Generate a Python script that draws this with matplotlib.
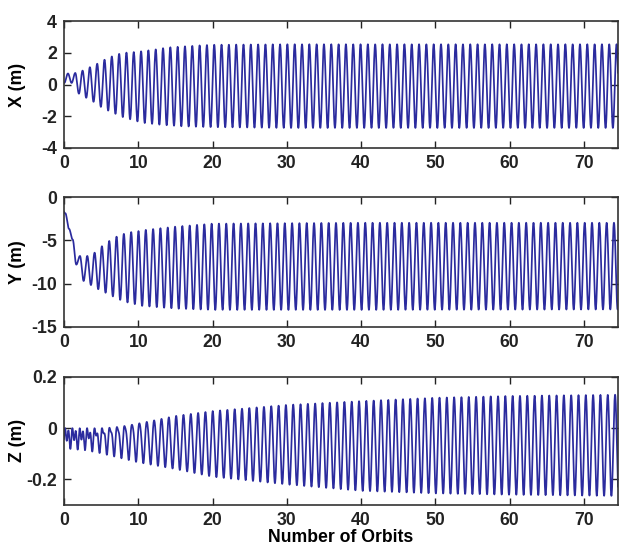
import numpy as np
import matplotlib
matplotlib.use("Agg")
import matplotlib.pyplot as plt

plt.rcParams['font.family'] = ['Liberation Sans', 'DejaVu Sans']
plt.rcParams['font.weight'] = 'bold'
plt.rcParams['font.size'] = 12.7

# orbit period of the relative motion oscillation (in orbits)
period = 0.985
t_end = 74.6

# X: envelope of the oscillation (upper peaks / lower troughs)
x_up_t = [0, 1.3, 2.5, 3.5, 4.4, 5.4, 6.4, 7.4, 8.4, 10, 12, 14, 16, 18, 20, 30, 75]
x_up = [0.7, 0.7, 0.88, 1.1, 1.3, 1.56, 1.77, 1.94, 2.02, 2.08, 2.2, 2.35, 2.41, 2.47, 2.52, 2.55, 2.55]
x_lo_t = [0, 1.3, 1.9, 3.0, 4.0, 4.9, 5.9, 6.9, 7.9, 8.9, 9.9, 10.9, 13, 16, 20, 30, 75]
x_lo = [0.1, 0.1, -0.55, -0.84, -1.1, -1.4, -1.64, -1.85, -2.06, -2.2, -2.34, -2.44, -2.55, -2.65, -2.7, -2.75, -2.75]

# Y
y_up_t = [0, 1.2, 2.15, 3.14, 4.17, 5.2, 6.2, 7.2, 8.2, 9.2, 10.2, 11.2, 15, 20, 40, 75]
y_up = [-1.3, -5.0, -6.8, -6.8, -6.4, -5.6, -5.0, -4.5, -4.2, -4.0, -3.9, -3.75, -3.4, -3.05, -2.95, -2.95]
y_lo_t = [0, 1.0, 1.7, 2.7, 3.7, 4.7, 5.7, 6.6, 7.6, 8.6, 9.6, 10.6, 15, 20, 40, 75]
y_lo = [-1.3, -4.8, -8.0, -9.8, -10.2, -10.7, -11.1, -11.5, -11.9, -12.2, -12.4, -12.6, -12.9, -13.05, -13.05, -13.0]

# Z: main oscillation plus a faster ripple that dies out early on
z_up_t = [0, 3, 5, 10, 15, 20, 30, 40, 50, 60, 75]
z_up = [-0.02, -0.015, 0.0, 0.025, 0.047, 0.066, 0.09, 0.105, 0.118, 0.125, 0.13]
z_lo_t = [0, 3, 5, 10, 15, 20, 30, 40, 50, 60, 75]
z_lo = [-0.05, -0.06, -0.08, -0.125, -0.16, -0.19, -0.22, -0.245, -0.255, -0.26, -0.265]
z_rip_t = [0, 3, 5, 10, 15, 75]
z_rip = [0.03, 0.028, 0.02, 0.01, 0.0, 0.0]

panels = [
    ("X (m)", (-4, 4), [-4, -2, 0, 2, 4]),
    ("Y (m)", (-15, 0), [-15, -10, -5, 0]),
    ("Z (m)", (-0.3, 0.2), [-0.2, 0, 0.2]),
]
axes_rects = [
    [0.1034, 0.7305, 0.895, 0.2305],
    [0.1034, 0.4038, 0.895, 0.2362],
    [0.1034, 0.0785, 0.895, 0.2341],
]


def trace(t, up_t, up, lo_t, lo, first_peak):
    # alternate between the upper and lower envelope every half period
    half = period / 2
    k0 = -int(first_peak / half) - 2
    k = np.arange(k0, int((t_end - first_peak) / half) + 4)
    tk = first_peak + k * half
    vals = np.where(k % 2 == 0, np.interp(tk, up_t, up), np.interp(tk, lo_t, lo))
    idx = np.searchsorted(tk, t, side='right') - 1
    frac = (t - tk[idx]) / half
    w = (1 - np.cos(np.pi * frac)) / 2
    return vals[idx] + (vals[idx + 1] - vals[idx]) * w


t = np.linspace(0, t_end, 3000)
xs = trace(t, x_up_t, x_up, x_lo_t, x_lo, 2.5)
ys = trace(t, y_up_t, y_up, y_lo_t, y_lo, 2.15)
zs = trace(t, z_up_t, z_up, z_lo_t, z_lo, 2.3)
zs = zs + np.interp(t, z_rip_t, z_rip) * np.sin(2 * np.pi * t / (period / 2))

fig = plt.figure(figsize=(6.19, 5.48), dpi=100)
for rect, (label, ylim, yticks), data in zip(axes_rects, panels, [xs, ys, zs]):
    ax = fig.add_axes(rect)
    ax.plot(t, data, color='#2b2b9e', lw=1.25)
    ax.set_xlim(0, t_end)
    ax.set_ylim(*ylim)
    ax.set_yticks(yticks)
    ax.set_yticklabels([f"{v:g}" for v in yticks])
    ax.set_xticks(range(0, 80, 10))
    ax.set_ylabel(label, fontweight='bold')
    ax.yaxis.set_label_coords(-0.069, 0.5)
    ax.tick_params(direction='in', top=True, right=True, length=5, width=1,
                   colors='#222222', labelsize=12.7, pad=5)
    for s in ax.spines.values():
        s.set_color('#333333')
        s.set_linewidth(1.2)

ax.set_xlabel("Number of Orbits", fontweight='bold', labelpad=0)
fig.savefig("out.png", dpi=100)
